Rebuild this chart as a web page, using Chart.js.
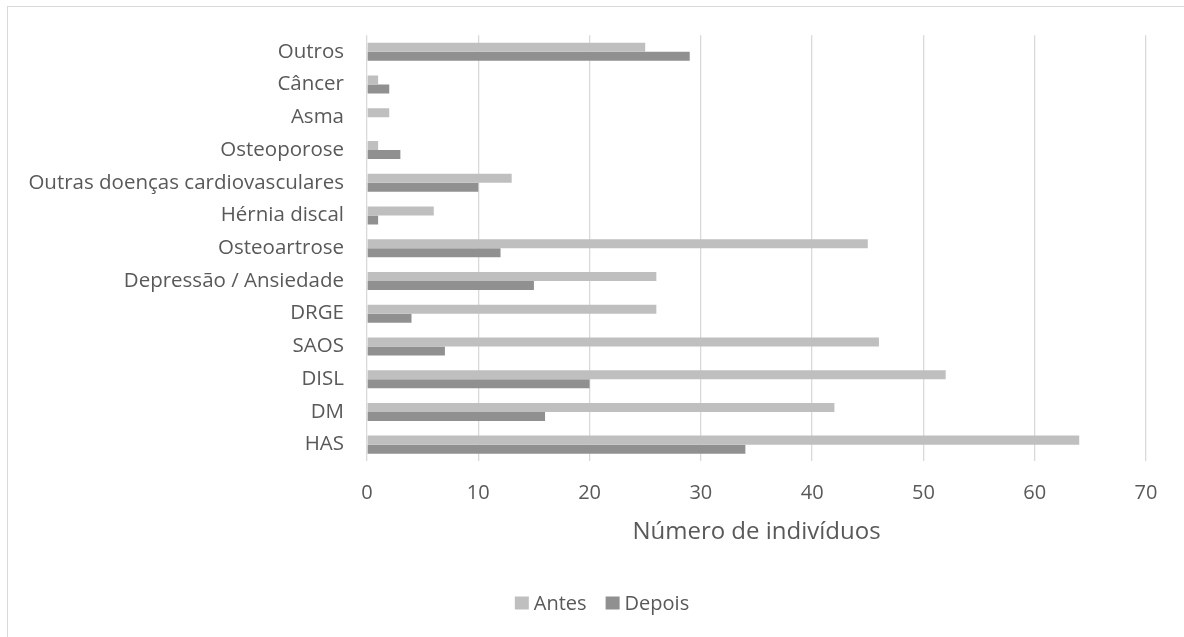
<!DOCTYPE html>
<html lang="pt">
<head>
<meta charset="utf-8">
<title>Comorbidades antes e depois</title>
<script src="https://cdn.jsdelivr.net/npm/chart.js@4.4.1/dist/chart.umd.min.js"></script>
<style>
  html, body { margin: 0; padding: 0; background: #ffffff; overflow: hidden; }
  #wrap { position: absolute; left: 0; top: 0; width: 1184px; height: 637px; }
  #frame {
    position: absolute; left: 7px; top: 6px; width: 1190px; height: 660px;
    border: 1px solid #d9d9d9; box-sizing: border-box; pointer-events: none;
  }
  canvas { display: block; }
</style>
</head>
<body>
<div id="wrap">
  <canvas id="chart" width="1184" height="637" style="width:1184px;height:637px"></canvas>
  <div id="frame"></div>
</div>
<script>
// Comorbidades (de cima para baixo)
const categories = [
  'Outros',
  'Câncer',
  'Asma',
  'Osteoporose',
  'Outras doenças cardiovasculares',
  'Hérnia discal',
  'Osteoartrose',
  'Depressão / Ansiedade',
  'DRGE',
  'SAOS',
  'DISL',
  'DM',
  'HAS'
];

// Número de indivíduos com cada condição
const antes  = [25, 1, 2, 1, 13, 6, 45, 26, 26, 46, 52, 42, 64];
const depois = [29, 2, 0, 3, 10, 1, 12, 15, 4, 7, 20, 16, 34];

const xTicks = [0, 10, 20, 30, 40, 50, 60, 70];
const xTitle = 'Número de indivíduos';

const textColor = '#595959';
const fontFamily = "'Open Sans', 'Noto Sans', sans-serif";

// Legend drawn below the axis title, centred on the outer frame
const bottomLegend = {
  id: 'bottomLegend',
  afterDraw(chart) {
    const ctx = chart.ctx;
    const sets = chart.data.datasets;
    const box = { w: 14, h: 13 }, gap = 5, spacing = 19;
    const centerX = 7 + 1190 / 2, centerY = 603;
    ctx.save();
    ctx.font = "20px " + fontFamily;
    ctx.textBaseline = 'middle';
    ctx.textAlign = 'left';
    const widths = sets.map(ds => box.w + gap + ctx.measureText(ds.label).width);
    const total = widths.reduce((a, b) => a + b, 0) + spacing * (sets.length - 1);
    let x = centerX - total / 2;
    sets.forEach((ds, i) => {
      ctx.fillStyle = ds.backgroundColor;
      ctx.fillRect(x, centerY - box.h / 2, box.w, box.h);
      ctx.fillStyle = textColor;
      ctx.fillText(ds.label, x + box.w + gap, centerY + 1);
      x += widths[i] + spacing;
    });
    ctx.restore();
  }
};

new Chart(document.getElementById('chart'), {
  type: 'bar',
  data: {
    labels: categories,
    datasets: [
      { label: 'Antes',  data: antes,  backgroundColor: '#bfbfbf' },
      { label: 'Depois', data: depois, backgroundColor: '#909090' }
    ]
  },
  options: {
    indexAxis: 'y',
    responsive: false,
    animation: false,
    events: [],
    datasets: {
      bar: { categoryPercentage: 0.55, barPercentage: 1.0, borderWidth: 0 }
    },
    layout: { padding: { left: 10, right: 38, top: 35, bottom: 53 } },
    scales: {
      x: {
        type: 'linear',
        min: xTicks[0],
        max: xTicks[xTicks.length - 1],
        afterBuildTicks: (scale) => { scale.ticks = xTicks.map(v => ({ value: v })); },
        afterFit: (scale) => { scale.height = 123; },
        grid: { color: '#d9d9d9', lineWidth: 1.3, drawTicks: false },
        border: { display: false },
        ticks: {
          padding: 20,
          color: textColor,
          font: { family: fontFamily, size: 20 }
        },
        title: {
          display: true,
          text: xTitle,
          color: textColor,
          font: { family: fontFamily, size: 24 },
          padding: { top: 0, bottom: 37 }
        }
      },
      y: {
        type: 'category',
        afterFit: (scale) => { scale.width = 357; },
        grid: { display: false, drawTicks: false },
        border: { display: false },
        ticks: {
          padding: 23,
          color: textColor,
          font: { family: fontFamily, size: 20.5 }
        }
      }
    },
    plugins: {
      tooltip: { enabled: false },
      legend: { display: false }
    }
  },
  plugins: [bottomLegend]
});
</script>
</body>
</html>
